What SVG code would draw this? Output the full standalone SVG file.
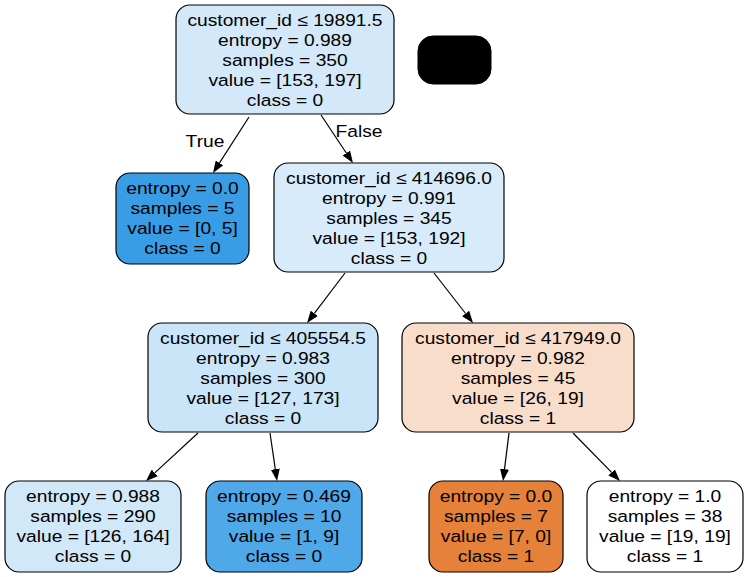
<svg xmlns="http://www.w3.org/2000/svg" width="748" height="577" viewBox="0 0 748 577">
<style>
.n{stroke:#000;stroke-width:1.2}
.t text{font-family:"Liberation Sans",Arial,sans-serif;font-size:16.7px;fill:#000;text-anchor:middle}
.e line{stroke:#000;stroke-width:1.2}
</style>
<defs>
<marker id="a" markerWidth="12" markerHeight="9" refX="0" refY="4.5" orient="auto" markerUnits="userSpaceOnUse">
<path d="M0,0 L12,4.5 L0,9 z" fill="#000"/>
</marker>
</defs>
<rect width="748" height="577" fill="#fff"/>
<g id="connectors" class="e">
<line x1="249" y1="117" x2="219.5" y2="162.9" marker-end="url(#a)"/>
<line x1="321" y1="115" x2="346.3" y2="153" marker-end="url(#a)"/>
<line x1="345" y1="273" x2="314.3" y2="313.4" marker-end="url(#a)"/>
<line x1="434" y1="273" x2="465.6" y2="313.5" marker-end="url(#a)"/>
<line x1="198" y1="433" x2="154.8" y2="472.9" marker-end="url(#a)"/>
<line x1="270" y1="433" x2="275.3" y2="469.1" marker-end="url(#a)"/>
<line x1="509" y1="433" x2="504.5" y2="469.1" marker-end="url(#a)"/>
<line x1="573" y1="433" x2="611.6" y2="472.4" marker-end="url(#a)"/>
<g class="t">
<g transform="translate(205 0) scale(1.15 1)"><text x="0" y="147">True</text></g>
<g transform="translate(359 0) scale(1.15 1)"><text x="0" y="137">False</text></g>
</g>
</g>
<g id="node0">
<rect class="n" x="176" y="5" width="218" height="109" rx="14" fill="#d3e9f9"/>
<g class="t" transform="translate(285 0) scale(1.15 1)">
<text x="0" y="26.5">customer_id ≤ 19891.5</text>
<text x="0" y="46.5">entropy = 0.989</text>
<text x="0" y="66.5">samples = 350</text>
<text x="0" y="86.5">value = [153, 197]</text>
<text x="0" y="106.5">class = 0</text>
</g>
</g>
<g id="legend">
<rect x="418" y="36" width="73" height="48" rx="15" fill="#000" stroke="#000"/>
</g>
<g id="node1">
<rect class="n" x="116" y="173" width="133" height="91" rx="14" fill="#399de5"/>
<g class="t" transform="translate(182.5 0) scale(1.15 1)">
<text x="0" y="194.5">entropy = 0.0</text>
<text x="0" y="214.5">samples = 5</text>
<text x="0" y="234.5">value = [0, 5]</text>
<text x="0" y="254.5">class = 0</text>
</g>
</g>
<g id="node2">
<rect class="n" x="274" y="163" width="230" height="109" rx="14" fill="#d7ebfa"/>
<g class="t" transform="translate(389 0) scale(1.15 1)">
<text x="0" y="184.5">customer_id ≤ 414696.0</text>
<text x="0" y="204.5">entropy = 0.991</text>
<text x="0" y="224.5">samples = 345</text>
<text x="0" y="244.5">value = [153, 192]</text>
<text x="0" y="264.5">class = 0</text>
</g>
</g>
<g id="node3">
<rect class="n" x="148" y="323" width="230" height="109" rx="14" fill="#cae5f8"/>
<g class="t" transform="translate(263 0) scale(1.15 1)">
<text x="0" y="344.5">customer_id ≤ 405554.5</text>
<text x="0" y="364.5">entropy = 0.983</text>
<text x="0" y="384.5">samples = 300</text>
<text x="0" y="404.5">value = [127, 173]</text>
<text x="0" y="424.5">class = 0</text>
</g>
</g>
<g id="node4">
<rect class="n" x="402" y="323" width="232" height="109" rx="14" fill="#f8ddca"/>
<g class="t" transform="translate(518 0) scale(1.15 1)">
<text x="0" y="344.5">customer_id ≤ 417949.0</text>
<text x="0" y="364.5">entropy = 0.982</text>
<text x="0" y="384.5">samples = 45</text>
<text x="0" y="404.5">value = [26, 19]</text>
<text x="0" y="424.5">class = 1</text>
</g>
</g>
<g id="node5">
<rect class="n" x="5" y="481" width="176" height="91" rx="14" fill="#d1e8f9"/>
<g class="t" transform="translate(93 0) scale(1.15 1)">
<text x="0" y="502.5">entropy = 0.988</text>
<text x="0" y="522.5">samples = 290</text>
<text x="0" y="542.5">value = [126, 164]</text>
<text x="0" y="562.5">class = 0</text>
</g>
</g>
<g id="node6">
<rect class="n" x="206" y="481" width="156" height="91" rx="14" fill="#4fa8e8"/>
<g class="t" transform="translate(284 0) scale(1.15 1)">
<text x="0" y="502.5">entropy = 0.469</text>
<text x="0" y="522.5">samples = 10</text>
<text x="0" y="542.5">value = [1, 9]</text>
<text x="0" y="562.5">class = 0</text>
</g>
</g>
<g id="node7">
<rect class="n" x="429" y="481" width="134" height="91" rx="14" fill="#e58139"/>
<g class="t" transform="translate(496 0) scale(1.15 1)">
<text x="0" y="502.5">entropy = 0.0</text>
<text x="0" y="522.5">samples = 7</text>
<text x="0" y="542.5">value = [7, 0]</text>
<text x="0" y="562.5">class = 1</text>
</g>
</g>
<g id="node8">
<rect class="n" x="587" y="481" width="156" height="91" rx="14" fill="#ffffff"/>
<g class="t" transform="translate(665 0) scale(1.15 1)">
<text x="0" y="502.5">entropy = 1.0</text>
<text x="0" y="522.5">samples = 38</text>
<text x="0" y="542.5">value = [19, 19]</text>
<text x="0" y="562.5">class = 1</text>
</g>
</g>
</svg>
